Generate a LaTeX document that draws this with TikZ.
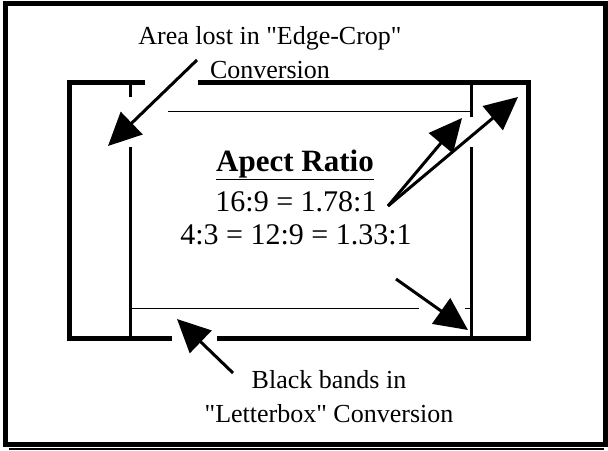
\documentclass[tikz,border=0pt]{standalone}
\usepackage{fontspec}
\setmainfont{Liberation Serif}
\usepackage{tikz}
\usetikzlibrary{arrows.meta}
\tikzset{
  frame_line/.style={draw=black,line width=5pt},
  thin_v/.style={draw=black,line width=2.2pt},
  thin_h/.style={draw=black,line width=1pt},
  big_arr/.style={-{Triangle[length=33pt,width=31pt]},draw=black,line width=3pt},
  label_txt/.style={font=\fontsize{26}{34}\selectfont,align=center,inner sep=0pt},
  ratio_txt/.style={font=\fontsize{30}{34}\selectfont,inner sep=0pt,anchor=base},
}
\begin{document}
\begin{tikzpicture}[x=1pt,y=-1pt]
  \useasboundingbox (0,0) rectangle (608,450);

  % outer frame and its shadow
  \draw[frame_line] (5.5,3.5) rectangle (605.5,444.5);
  \draw[draw=black,line width=1.5pt] (9,449) -- (604,449);

  % 16:9 screen, broken where the arrows cross
  \draw[frame_line] (145,82.5) -- (69.5,82.5) -- (69.5,338.5) -- (172,338.5);
  \draw[frame_line] (217,338.5) -- (528.5,338.5) -- (528.5,82.5) -- (198,82.5);

  % 4:3 picture and letterbox bands
  \draw[thin_v] (130.5,85) -- (130.5,97);
  \draw[thin_v] (130.5,147) -- (130.5,338);
  \draw[thin_v] (471.5,85) -- (471.5,117);
  \draw[thin_v] (471.5,147) -- (471.5,338);
  \draw[thin_h] (168,111) -- (471,111);
  \draw[thin_h] (130,308) -- (419,308);
  \draw[thin_h] (465,308) -- (471,308);

  % texts
  \node[label_txt] (croplabel) at (270,53) {Area lost in \textquotedbl Edge-Crop\textquotedbl\\Conversion};
  \node[label_txt] (bandlabel) at (329,397) {Black bands in\\\textquotedbl Letterbox\textquotedbl{} Conversion};
  \node[ratio_txt,font=\fontsize{31}{34}\selectfont\bfseries] (title) at (295,171) {\underline{Apect Ratio}};
  \node[ratio_txt] (wide) at (296,211) {16:9 = 1.78:1};
  \node[ratio_txt] (narrow) at (296,244) {4:3 = 12:9 = 1.33:1};

  % arrow ends
  \coordinate (cropstart) at (197,60);
  \coordinate (croptip) at (108,146);
  \coordinate (widestart) at (388,206);
  \coordinate (widetipa) at (462,118);
  \coordinate (widetipb) at (518,97);
  \coordinate (narrowstart) at (396,279);
  \coordinate (narrowtip) at (468,330);
  \coordinate (bandstart) at (233,373);
  \coordinate (bandtip) at (177,319);

  \draw[big_arr] (cropstart) -- (croptip);
  \draw[big_arr] (widestart) -- (widetipa);
  \draw[big_arr] (widestart) -- (widetipb);
  \draw[big_arr] (narrowstart) -- (narrowtip);
  \draw[big_arr] (bandstart) -- (bandtip);
\end{tikzpicture}
\end{document}
